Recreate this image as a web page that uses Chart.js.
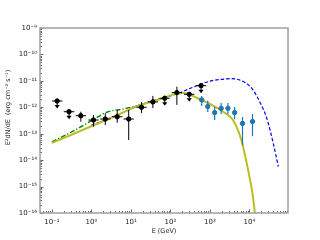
<!DOCTYPE html>
<html><head><meta charset="utf-8">
<script src="https://cdn.jsdelivr.net/npm/chart.js@4"></script>
<style>html,body{margin:0;padding:0;background:#fff}#c{display:block}</style>
</head><body>
<canvas id="c" width="320" height="240"></canvas>
<script>
// ---- data ----
const blackE   = [0.136,0.272,0.54,1.13,2.25,4.5,8.8,18.6,36,72,146,300,597];
const blackF   = [1.73e-12,6.8e-13,4.8e-13,3.3e-13,3.6e-13,4.4e-13,3.6e-13,1.0e-12,1.6e-12,2.2e-12,3.6e-12,3.1e-12,6.6e-12];
const blackElo = [0.101,0.20,0.40,0.84,1.67,3.33,6.5,13.8,26.7,53,108,222,442];
const blackEhi = [0.184,0.37,0.73,1.53,3.04,6.1,11.9,25.1,48.6,97,197,405,806];
const blackFlo = [null,null,2.85e-13,1.85e-13,2.1e-13,2.6e-13,5.8e-14,6.0e-13,9.3e-13,null,1.23e-12,null,null];
const blackFhi = [null,null,6.8e-13,5.1e-13,6.0e-13,7.9e-13,7.9e-13,1.58e-12,2.7e-12,null,6.0e-12,null,null];
const blackUL  = [true,true,false,false,false,false,false,false,false,true,false,true,true];

const blueE   = [621,884,1320,1930,2860,4220,6700,12000];
const blueF   = [1.9e-12,1.07e-12,6.3e-13,9.1e-13,9.1e-13,6.3e-13,2.45e-13,2.9e-13];
const blueElo = [560,800,1190,1740,2580,3800,6050,10800];
const blueEhi = [690,980,1460,2140,3170,4680,7420,13300];
const blueFlo = [1.12e-12,6.6e-13,3.3e-13,5.6e-13,5.6e-13,3.5e-13,3.7e-14,8.1e-14];
const blueFhi = [2.7e-12,1.75e-12,1.03e-12,1.46e-12,1.46e-12,1.03e-12,4.3e-13,5.6e-13];

const yellowE = [0.1,3.33,17.6,57,152,210,300,490,1070,2860,3840,6250,9270,11900,13700,14500];
const yellowF = [4.5e-14,4.1e-13,1.23e-12,2.05e-12,3.4e-12,3.5e-12,3.1e-12,2.2e-12,1.29e-12,5.1e-13,3.3e-13,5.8e-14,4.3e-15,5.8e-16,1.1e-16,5e-17];

const blueLineE = [1.0,4.55,17.6,152,403,1070,2590,3500,4660,8320,12400,18300,27200,40300,54000];
const blueLineF = [2.1e-13,5.1e-13,1.25e-12,3.3e-12,6.0e-12,1.0e-11,1.18e-11,1.22e-11,1.17e-11,8.1e-12,4.5e-12,1.6e-12,4.1e-13,4.3e-14,5.7e-15];

const greenE = [0.1,0.469,1.25,2.5,6.5,17.6];
const greenF = [4.9e-14,1.6e-13,3.8e-13,6.6e-13,8.7e-13,1.23e-12];

const xMin = 0.05, xMax = 9.5e4, yMin = 1e-16, yMax = 1e-9;
const xTitle = 'E (GeV)';
const yTitle = 'E\u00b2dN/dE  (erg cm\u207b\u00b2 s\u207b\u00b9)';

// ---- helpers ----
const pts = (xs, ys) => xs.map((v, i) => ({x: v, y: ys[i]}));
const SUP = {'-':'\u207b','0':'\u2070','1':'\u00b9','2':'\u00b2','3':'\u00b3','4':'\u2074','5':'\u2075','6':'\u2076','7':'\u2077','8':'\u2078','9':'\u2079'};
const isPow10 = v => Math.abs(Math.log10(v) - Math.round(Math.log10(v))) < 1e-9;
const fmt = v => isPow10(v) ? '10' + String(Math.round(Math.log10(v))).split('').map(c => SUP[c]).join('') : '';
function logTicks(scale) {
  const t = [];
  const e0 = Math.floor(Math.log10(scale.min)), e1 = Math.ceil(Math.log10(scale.max));
  for (let e = e0; e <= e1; e++) for (let m = 1; m <= 9; m++) {
    const v = Number((m * Math.pow(10, e)).toPrecision(6));
    if (v >= scale.min * 0.999999 && v <= scale.max * 1.000001) t.push({value: v, major: m === 1});
  }
  scale.ticks = t;
}

const decor = {
  id: 'decor',
  afterDatasetsDraw(chart) {
    const {ctx, scales: {x, y}} = chart;
    ctx.save();
    ctx.beginPath();
    const a = chart.chartArea;
    ctx.rect(a.left, a.top, a.right - a.left, a.bottom - a.top);
    ctx.clip();
    // black points: error bars / upper limits
    ctx.strokeStyle = '#000'; ctx.fillStyle = '#000'; ctx.lineWidth = 1;
    blackE.forEach((e, i) => {
      const px = x.getPixelForValue(e), py = y.getPixelForValue(blackF[i]);
      ctx.beginPath();
      ctx.moveTo(x.getPixelForValue(blackElo[i]), py); ctx.lineTo(x.getPixelForValue(blackEhi[i]), py);
      if (blackUL[i]) {
        ctx.moveTo(px, py); ctx.lineTo(px, py + 5);
        ctx.stroke();
        ctx.beginPath(); ctx.moveTo(px - 2.6, py + 4); ctx.lineTo(px + 2.6, py + 4); ctx.lineTo(px, py + 7.5); ctx.closePath(); ctx.fill();
      } else {
        ctx.moveTo(px, y.getPixelForValue(blackFlo[i])); ctx.lineTo(px, y.getPixelForValue(blackFhi[i]));
        ctx.stroke();
      }
    });
    // blue points error bars
    ctx.strokeStyle = '#1f77b4'; ctx.lineWidth = 1.2;
    blueE.forEach((e, i) => {
      const px = x.getPixelForValue(e), py = y.getPixelForValue(blueF[i]);
      ctx.beginPath();
      ctx.moveTo(x.getPixelForValue(blueElo[i]), py); ctx.lineTo(x.getPixelForValue(blueEhi[i]), py);
      ctx.moveTo(px, y.getPixelForValue(blueFlo[i])); ctx.lineTo(px, y.getPixelForValue(blueFhi[i]));
      ctx.stroke();
    });
    ctx.restore();
  },
  afterDraw(chart) {
    const {ctx, chartArea: a, scales: {x, y}} = chart;
    ctx.save();
    ctx.strokeStyle = '#444'; ctx.lineWidth = 0.8;
    ctx.beginPath();
    x.ticks.forEach(t => {
      const px = Math.round(x.getPixelForValue(t.value)) + 0.5, len = t.major ? 3.5 : 2;
      ctx.moveTo(px, a.bottom); ctx.lineTo(px, a.bottom - len);
    });
    y.ticks.forEach(t => {
      const py = Math.round(y.getPixelForValue(t.value)) + 0.5, len = t.major ? 3.5 : 2;
      ctx.moveTo(a.left, py); ctx.lineTo(a.left + len, py);
    });
    ctx.stroke();
    ctx.strokeStyle = '#a0a0a0'; ctx.lineWidth = 1.5;
    ctx.strokeRect(a.left, a.top, a.right - a.left, a.bottom - a.top);
    // axis titles
    ctx.fillStyle = '#222';
    ctx.font = '6.5px "DejaVu Sans"';
    ctx.textAlign = 'center'; ctx.textBaseline = 'middle';
    ctx.fillText(xTitle, (a.left + a.right) / 2, 231);
    ctx.translate(8, 107.5); ctx.rotate(-Math.PI / 2);
    ctx.fillText(yTitle, 0, 0);
    ctx.restore();
  }
};

new Chart(document.getElementById('c'), {
  type: 'scatter',
  data: {
    datasets: [
      {label: 'Fermi', data: pts(blackE, blackF), backgroundColor: '#000', borderColor: '#000', pointRadius: 2.2, order: 1},
      {label: 'IACT', data: pts(blueE, blueF), backgroundColor: '#1f77b4', borderColor: '#1f77b4', pointRadius: 2.2, order: 2},
      {label: 'model1', data: pts(yellowE, yellowF), showLine: true, borderColor: '#bcbd22', borderWidth: 2, pointRadius: 0, cubicInterpolationMode: 'monotone', order: 3},
      {label: 'model3', data: pts(greenE, greenF), showLine: true, borderColor: '#008000', borderWidth: 1.4, borderDash: [5, 2, 1.2, 2], pointRadius: 0, cubicInterpolationMode: 'monotone', order: 4},
      {label: 'model2', data: pts(blueLineE, blueLineF), showLine: true, borderColor: '#0000ff', borderWidth: 1.2, borderDash: [3.5, 2], pointRadius: 0, cubicInterpolationMode: 'monotone', order: 5}
    ]
  },
  options: {
    responsive: false, animation: false, devicePixelRatio: 1,
    layout: {padding: {left: 0, top: 28, right: 32, bottom: 0}},
    plugins: {legend: {display: false}, tooltip: {enabled: false}},
    scales: {
      x: {
        type: 'logarithmic', min: xMin, max: xMax,
        afterBuildTicks: logTicks,
        afterFit: s => { s.height = 27; },
        grid: {display: false, drawTicks: false}, border: {display: false},
        ticks: {callback: v => fmt(v), autoSkip: false, maxRotation: 0, padding: 5, color: '#222', font: {family: 'DejaVu Sans', size: 7}}
      },
      y: {
        type: 'logarithmic', min: yMin, max: yMax,
        afterBuildTicks: logTicks,
        afterFit: s => { s.width = 40; },
        grid: {display: false, drawTicks: false}, border: {display: false},
        ticks: {callback: v => fmt(v), autoSkip: false, padding: 3, color: '#222', font: {family: 'DejaVu Sans', size: 7}}
      }
    }
  },
  plugins: [decor]
});
</script>
</body></html>
